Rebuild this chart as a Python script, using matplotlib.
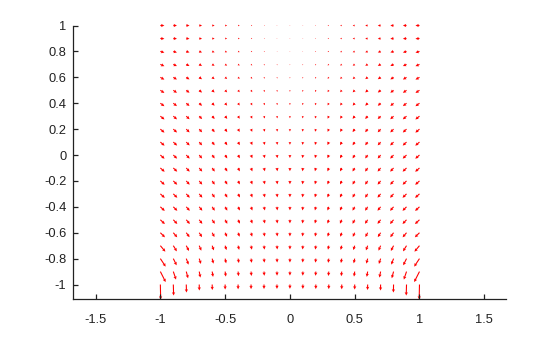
import numpy as np
import matplotlib
matplotlib.use("Agg")
import matplotlib.pyplot as plt

plt.rcParams['font.family'] = ['Liberation Sans', 'DejaVu Sans']
plt.rcParams['axes.unicode_minus'] = False

# grid of arrow tails
x_vals = [-1.0, -0.9, -0.8, -0.7, -0.6, -0.5, -0.4, -0.3, -0.2, -0.1, 0.0,
          0.1, 0.2, 0.3, 0.4, 0.5, 0.6, 0.7, 0.8, 0.9, 1.0]
y_vals = [1.0, 0.9, 0.8, 0.7, 0.6, 0.5, 0.4, 0.3, 0.2, 0.1, 0.0,
          -0.1, -0.2, -0.3, -0.4, -0.5, -0.6, -0.7, -0.8, -0.9, -1.0]

# horizontal components, one row per y value (top to bottom) (screen px)
u_rows = [
    [4.0, 3.6, 3.2, 2.8, 2.4, 2.0, 1.6, 1.2, 0.8, 0.4, 0.0, -0.4, -0.8, -1.2, -1.6, -2.0, -2.4, -2.8, -3.2, -3.6, -4.0],
    [4.0, 3.6, 3.2, 2.8, 2.4, 2.0, 1.6, 1.2, 0.8, 0.4, 0.0, -0.4, -0.8, -1.2, -1.6, -2.0, -2.4, -2.8, -3.2, -3.6, -4.0],
    [4.0, 3.6, 3.2, 2.8, 2.4, 2.0, 1.6, 1.2, 0.8, 0.4, 0.0, -0.4, -0.8, -1.2, -1.6, -2.0, -2.4, -2.8, -3.2, -3.6, -4.0],
    [4.0, 3.6, 3.2, 2.8, 2.4, 2.0, 1.6, 1.2, 0.8, 0.4, 0.0, -0.4, -0.8, -1.2, -1.6, -2.0, -2.4, -2.8, -3.2, -3.6, -4.0],
    [4.0, 3.6, 3.2, 2.8, 2.4, 2.0, 1.6, 1.2, 0.8, 0.4, 0.0, -0.4, -0.8, -1.2, -1.6, -2.0, -2.4, -2.8, -3.2, -3.6, -4.0],
    [4.0, 3.6, 3.2, 2.8, 2.4, 2.0, 1.6, 1.2, 0.8, 0.4, 0.0, -0.4, -0.8, -1.2, -1.6, -2.0, -2.4, -2.8, -3.2, -3.6, -4.0],
    [4.0, 3.6, 3.2, 2.8, 2.4, 2.0, 1.6, 1.2, 0.8, 0.4, 0.0, -0.4, -0.8, -1.2, -1.6, -2.0, -2.4, -2.8, -3.2, -3.6, -4.0],
    [4.1, 3.7, 3.3, 2.9, 2.5, 2.1, 1.6, 1.2, 0.8, 0.4, 0.0, -0.4, -0.8, -1.2, -1.6, -2.1, -2.5, -2.9, -3.3, -3.7, -4.1],
    [4.1, 3.7, 3.3, 2.9, 2.5, 2.1, 1.6, 1.2, 0.8, 0.4, 0.0, -0.4, -0.8, -1.2, -1.6, -2.1, -2.5, -2.9, -3.3, -3.7, -4.1],
    [4.2, 3.8, 3.4, 2.9, 2.5, 2.1, 1.7, 1.3, 0.8, 0.4, 0.0, -0.4, -0.8, -1.3, -1.7, -2.1, -2.5, -2.9, -3.4, -3.8, -4.2],
    [4.2, 3.8, 3.4, 2.9, 2.5, 2.1, 1.7, 1.3, 0.8, 0.4, 0.0, -0.4, -0.8, -1.3, -1.7, -2.1, -2.5, -2.9, -3.4, -3.8, -4.2],
    [4.3, 3.9, 3.4, 3.0, 2.6, 2.2, 1.7, 1.3, 0.9, 0.4, 0.0, -0.4, -0.9, -1.3, -1.7, -2.2, -2.6, -3.0, -3.4, -3.9, -4.3],
    [4.3, 3.9, 3.4, 3.0, 2.6, 2.2, 1.7, 1.3, 0.9, 0.4, 0.0, -0.4, -0.9, -1.3, -1.7, -2.2, -2.6, -3.0, -3.4, -3.9, -4.3],
    [4.4, 4.0, 3.5, 3.1, 2.6, 2.2, 1.8, 1.3, 0.9, 0.4, 0.0, -0.4, -0.9, -1.3, -1.8, -2.2, -2.6, -3.1, -3.5, -4.0, -4.4],
    [4.4, 4.0, 3.5, 3.1, 2.6, 2.2, 1.8, 1.3, 0.9, 0.4, 0.0, -0.4, -0.9, -1.3, -1.8, -2.2, -2.6, -3.1, -3.5, -4.0, -4.4],
    [4.5, 4.0, 3.6, 3.1, 2.7, 2.2, 1.8, 1.3, 0.9, 0.4, 0.0, -0.4, -0.9, -1.3, -1.8, -2.2, -2.7, -3.1, -3.6, -4.0, -4.5],
    [4.6, 3.9, 3.3, 2.8, 2.3, 1.9, 1.5, 1.1, 0.7, 0.4, 0.0, -0.4, -0.7, -1.1, -1.5, -1.9, -2.3, -2.8, -3.3, -3.9, -4.6],
    [5.0, 3.5, 2.7, 2.1, 1.7, 1.4, 1.1, 0.8, 0.5, 0.3, 0.0, -0.3, -0.5, -0.8, -1.1, -1.4, -1.7, -2.1, -2.7, -3.5, -5.0],
    [5.3, 3.3, 2.3, 1.7, 1.3, 1.0, 0.8, 0.6, 0.4, 0.2, 0.0, -0.2, -0.4, -0.6, -0.8, -1.0, -1.3, -1.7, -2.3, -3.3, -5.3],
    [5.3, 2.7, 1.8, 1.2, 0.9, 0.7, 0.5, 0.4, 0.3, 0.1, 0.0, -0.1, -0.3, -0.4, -0.5, -0.7, -0.9, -1.2, -1.8, -2.7, -5.3],
    [0.3, 0.3, 0.2, 0.1, 0.1, 0.0, 0.0, 0.0, 0.0, 0.0, 0.0, 0.0, 0.0, 0.0, 0.0, 0.0, -0.1, -0.1, -0.2, -0.3, -0.3],
]

# vertical components, same layout
v_rows = [
    [0.0, 0.0, 0.0, 0.0, 0.0, 0.0, 0.0, 0.0, 0.0, 0.0, 0.0, 0.0, 0.0, 0.0, 0.0, 0.0, 0.0, 0.0, 0.0, 0.0, 0.0],
    [-0.3, -0.3, -0.3, -0.3, -0.3, -0.2, -0.2, -0.2, -0.2, -0.2, -0.2, -0.2, -0.2, -0.2, -0.2, -0.2, -0.3, -0.3, -0.3, -0.3, -0.3],
    [-1.2, -1.1, -1.0, -1.0, -0.9, -0.8, -0.7, -0.6, -0.6, -0.5, -0.4, -0.5, -0.6, -0.6, -0.7, -0.8, -0.9, -1.0, -1.0, -1.1, -1.2],
    [-1.8, -1.7, -1.6, -1.5, -1.4, -1.3, -1.2, -1.1, -1.0, -0.9, -0.8, -0.9, -1.0, -1.1, -1.2, -1.3, -1.4, -1.5, -1.6, -1.7, -1.8],
    [-2.3, -2.2, -2.1, -1.9, -1.8, -1.7, -1.6, -1.5, -1.3, -1.2, -1.1, -1.2, -1.3, -1.5, -1.6, -1.7, -1.8, -1.9, -2.1, -2.2, -2.3],
    [-2.7, -2.6, -2.5, -2.3, -2.2, -2.1, -2.0, -1.9, -1.7, -1.6, -1.5, -1.6, -1.7, -1.9, -2.0, -2.1, -2.2, -2.3, -2.5, -2.6, -2.7],
    [-3.0, -2.9, -2.8, -2.6, -2.5, -2.4, -2.3, -2.2, -2.0, -1.9, -1.8, -1.9, -2.0, -2.2, -2.3, -2.4, -2.5, -2.6, -2.8, -2.9, -3.0],
    [-3.3, -3.2, -3.1, -2.9, -2.8, -2.7, -2.6, -2.5, -2.3, -2.2, -2.1, -2.2, -2.3, -2.5, -2.6, -2.7, -2.8, -2.9, -3.1, -3.2, -3.3],
    [-3.5, -3.4, -3.3, -3.2, -3.1, -3.0, -2.8, -2.7, -2.6, -2.5, -2.4, -2.5, -2.6, -2.7, -2.8, -3.0, -3.1, -3.2, -3.3, -3.4, -3.5],
    [-3.6, -3.5, -3.4, -3.3, -3.2, -3.2, -3.1, -3.0, -2.9, -2.8, -2.7, -2.8, -2.9, -3.0, -3.1, -3.2, -3.2, -3.3, -3.4, -3.5, -3.6],
    [-3.7, -3.6, -3.6, -3.5, -3.4, -3.4, -3.3, -3.2, -3.1, -3.1, -3.0, -3.1, -3.1, -3.2, -3.3, -3.4, -3.4, -3.5, -3.6, -3.6, -3.7],
    [-3.8, -3.7, -3.7, -3.6, -3.6, -3.5, -3.4, -3.4, -3.3, -3.3, -3.2, -3.3, -3.3, -3.4, -3.4, -3.5, -3.6, -3.6, -3.7, -3.7, -3.8],
    [-3.9, -3.8, -3.8, -3.7, -3.7, -3.6, -3.5, -3.5, -3.4, -3.4, -3.3, -3.4, -3.4, -3.5, -3.5, -3.6, -3.7, -3.7, -3.8, -3.8, -3.9],
    [-4.0, -3.9, -3.9, -3.8, -3.8, -3.7, -3.6, -3.6, -3.5, -3.5, -3.4, -3.5, -3.5, -3.6, -3.6, -3.7, -3.8, -3.8, -3.9, -3.9, -4.0],
    [-4.1, -4.0, -4.0, -3.9, -3.9, -3.8, -3.7, -3.7, -3.6, -3.6, -3.5, -3.6, -3.6, -3.7, -3.7, -3.8, -3.9, -3.9, -4.0, -4.0, -4.1],
    [-4.3, -4.2, -4.2, -4.1, -4.0, -4.0, -3.9, -3.8, -3.7, -3.7, -3.6, -3.7, -3.7, -3.8, -3.9, -4.0, -4.0, -4.1, -4.2, -4.2, -4.3],
    [-4.6, -4.6, -4.5, -4.4, -4.3, -4.1, -4.0, -3.9, -3.8, -3.7, -3.7, -3.7, -3.8, -3.9, -4.0, -4.1, -4.3, -4.4, -4.5, -4.6, -4.6],
    [-6.0, -5.7, -5.3, -5.0, -4.7, -4.4, -4.2, -4.0, -3.9, -3.8, -3.8, -3.8, -3.9, -4.0, -4.2, -4.4, -4.7, -5.0, -5.3, -5.7, -6.0],
    [-8.0, -6.7, -6.0, -5.3, -5.0, -4.7, -4.4, -4.2, -4.0, -3.9, -3.9, -3.9, -4.0, -4.2, -4.4, -4.7, -5.0, -5.3, -6.0, -6.7, -8.0],
    [-10.5, -8.0, -6.7, -6.0, -5.3, -5.0, -4.6, -4.4, -4.2, -4.1, -4.0, -4.1, -4.2, -4.4, -4.6, -5.0, -5.3, -6.0, -6.7, -8.0, -10.5],
    [-15.0, -11.0, -8.0, -6.0, -5.5, -5.0, -4.8, -4.6, -4.5, -4.4, -4.3, -4.4, -4.5, -4.6, -4.8, -5.0, -5.5, -6.0, -8.0, -11.0, -15.0],
]

X, Y = np.meshgrid(x_vals, y_vals)
U = np.array(u_rows)
V = np.array(v_rows)

fig = plt.figure(figsize=(5.6, 3.37), dpi=100)
ax = fig.add_axes([0.1309, 0.1119, 0.7727, 0.8124])

q = ax.quiver(X, Y, U, V, color='red', angles='xy', scale_units='xy', scale=129.5,
              units='dots', width=1.1, headwidth=3.0, headlength=3.0, headaxislength=2.6,
              minlength=0.5)
q.set_clip_on(False)

ax.set_xlim(-1.672, 1.668)
ax.set_ylim(-1.114, 1.0)
ax.set_xticks([-1.5, -1, -0.5, 0, 0.5, 1, 1.5])
ax.set_xticklabels(['-1.5', '-1', '-0.5', '0', '0.5', '1', '1.5'])
ax.set_yticks([-1, -0.8, -0.6, -0.4, -0.2, 0, 0.2, 0.4, 0.6, 0.8, 1])
ax.set_yticklabels(['-1', '-0.8', '-0.6', '-0.4', '-0.2', '0', '0.2', '0.4', '0.6', '0.8', '1'])

ax.spines['top'].set_visible(False)
ax.spines['right'].set_visible(False)
for s in ['left', 'bottom']:
    ax.spines[s].set_linewidth(0.9)
    ax.spines[s].set_color('#222222')
ax.tick_params(direction='in', length=3.5, width=0.9, labelsize=9.3, colors='#222222')
ax.tick_params(axis='x', pad=10.5)
ax.tick_params(axis='y', pad=5)

fig.savefig("out.png", dpi=100)
